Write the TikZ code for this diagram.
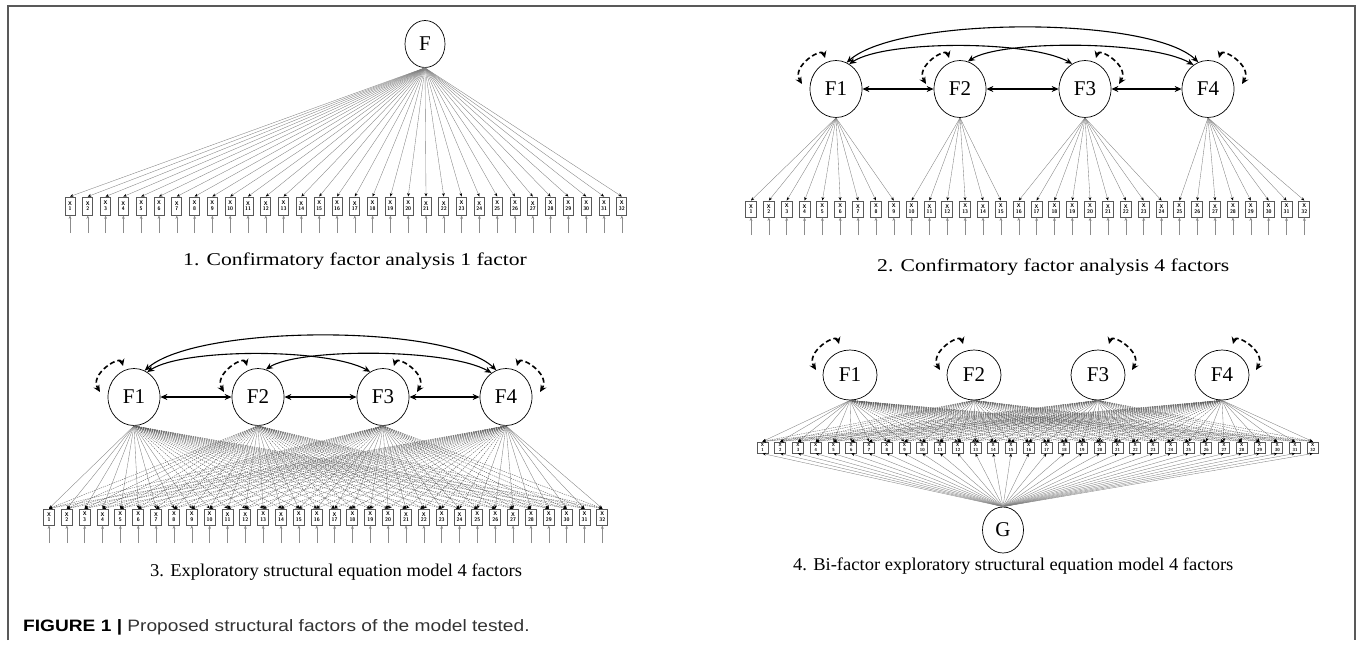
\documentclass[tikz,border=0pt]{standalone}
\usepackage{fontspec}
\usepackage{graphicx}
\setmainfont{Liberation Serif}
\newfontfamily\capsans{Liberation Sans}
\usetikzlibrary{arrows.meta,shapes.geometric}

% factor that item #1 loads on (9, 6, 9 and 8 items)
\newcommand\itemgroup[1]{\ifnum#1<10 1\else\ifnum#1<16 2\else\ifnum#1<25 3\else 4\fi\fi\fi}

\tikzset{
  latent/.style={ellipse, draw=black, line width=0.7pt, inner sep=0pt,
    minimum width=52, minimum height=57, font=\fontsize{21}{22}\selectfont},
  obs/.style={rectangle, draw=black!65, line width=1pt, inner sep=0pt,
    minimum width=11, minimum height=16, align=center, text=black,
    font=\fontsize{5.3}{5.6}\selectfont\bfseries\sffamily},
  loadline/.style={draw=black!50, line width=0.35pt,
    -{Stealth[length=3.4,width=2.8,color=black,fill=black]}},
  xloadline/.style={loadline, draw=black!62, line width=0.4pt, dash pattern=on 1.3pt off 1pt},
  residline/.style={draw=black!45, line width=0.45pt, -{Stealth[length=3.4,width=2.8]}},
  covline/.style={line width=1.1pt, {Stealth[length=7,width=6]}-{Stealth[length=7,width=6]}},
  varline/.style={line width=1.6pt, dash pattern=on 5pt off 3pt,
    {Stealth[length=7,width=6.5]}-{Stealth[length=7,width=6.5]}},
  captext/.style={anchor=base west, inner sep=0pt, font=\fontsize{18}{20}\selectfont},
  frameline/.style={draw=black!65, line width=1.2pt},
}

% variance arcs, opening towards the factor
\newcommand\varleft[1]{\draw[varline] ([xshift=-11pt,yshift=31pt]#1.center)
  .. controls +(-3,-11) and +(-11,-18) .. ([xshift=-34pt,yshift=5pt]#1.center);}
\newcommand\varright[1]{\draw[varline] ([xshift=11pt,yshift=31pt]#1.center)
  .. controls +(3,-11) and +(11,-18) .. ([xshift=34pt,yshift=5pt]#1.center);}

% four correlated factors over 32 items; #1 name prefix, #2 = 1 adds cross-loadings
\newcommand\fourfactor[2]{%
  \foreach \ff/\xx in {1/836,2/960,3/1085,4/1208}
    \node[latent] (#1F\ff) at (\xx,89) {F\ff};
  \foreach \ii in {1,...,32}{
    \node[obs] (#1X\ii) at ({751+(\ii-1)*17.85},209) {X\\\ii};
    \coordinate (#1E\ii) at ({751+(\ii-1)*17.85},235);
    \draw[residline] (#1E\ii) -- (#1X\ii.south);
  }
  \foreach \ii in {1,...,32}{
    \edef\grpno{\itemgroup{\ii}}
    \draw[loadline] (#1F\grpno.south) -- (#1X\ii.north);
  }
  \ifnum#2=1
    \foreach \ff in {1,...,4}{\foreach \ii in {1,...,32}{
      \edef\grpno{\itemgroup{\ii}}
      \ifnum\ff=\grpno\relax\else\draw[xloadline] (#1F\ff.south) -- (#1X\ii.north);\fi
    }}
  \fi
  \draw[covline] (#1F1.68) .. controls (900,16) and (1150,16) .. (#1F4.110);
  \draw[covline] (#1F1.62) .. controls (885,40) and (1030,40) .. (#1F3.117);
  \draw[covline] (#1F2.74) .. controls (1000,40) and (1150,40) .. (#1F4.121);
  \draw[covline] (#1F1.east) -- (#1F2.west);
  \draw[covline] (#1F2.east) -- (#1F3.west);
  \draw[covline] (#1F3.east) -- (#1F4.west);
  \varleft{#1F1}\varleft{#1F2}\varright{#1F3}\varright{#1F4}
}

\begin{document}
\begin{tikzpicture}[x=1pt,y=-1pt]
\useasboundingbox (0,0) rectangle (1357,654);
\fill[white] (0,0) rectangle (1357,654);

% outer frame
\draw[frameline] (8,640) -- (8,6) -- (1355,6) -- (1355,640);

% 1. one-factor model
\node[latent, minimum width=40, minimum height=47] (aF) at (425,44) {F};
\foreach \ii in {1,...,32}{
  \node[obs, minimum width=10, minimum height=18] (aX\ii) at ({70+(\ii-1)*17.8},206) {X\\\ii};
  \coordinate (aE\ii) at ({70+(\ii-1)*17.8},233);
  \draw[residline] (aE\ii) -- (aX\ii.south);
  \draw[loadline] (aF.south) -- (aX\ii.north);
}
\node[captext] (t1) at (183,265) {\scalebox{1.2}[1]{1. Confirmatory factor analysis 1 factor}};

% 2. four correlated factors
\fourfactor{b}{0}
\node[captext] (t2) at (877,271) {\scalebox{1.2}[1]{2. Confirmatory factor analysis 4 factors}};

% 3. ESEM with four factors
\begin{scope}[shift={(-702,308)}]
  \fourfactor{c}{1}
\end{scope}
\node[captext] (t3) at (150,576) {\scalebox{1.03}[1]{3. Exploratory structural equation model 4 factors}};

% 4. bi-factor ESEM
\foreach \ff/\xx in {1/850,2/974,3/1098,4/1222}
  \node[latent, minimum width=54, minimum height=50] (dF\ff) at (\xx,375) {F\ff};
\node[latent, minimum width=41, minimum height=46] (dG) at (1003,530) {G};
\foreach \ii in {1,...,32}
  \node[obs, minimum height=11, font=\fontsize{4.4}{4.6}\selectfont\bfseries\sffamily] (dX\ii) at ({762.5+(\ii-1)*17.75},447.5) {X\\\ii};
\foreach \ff in {1,...,4}{\foreach \ii in {1,...,32}{
  \edef\grpno{\itemgroup{\ii}}
  \ifnum\ff=\grpno\relax\draw[loadline] (dF\ff.south) -- (dX\ii.north);
  \else\draw[xloadline] (dF\ff.south) -- (dX\ii.north);\fi
}}
\foreach \ii in {1,...,32}
  \draw[loadline] (dG.north) -- (dX\ii.south);
\varleft{dF1}\varleft{dF2}\varright{dF3}\varright{dF4}
\node[captext] (t4) at (793,570) {\scalebox{1.03}[1]{4. Bi-factor exploratory structural equation model 4 factors}};

% figure caption
\node[anchor=base west, inner sep=0pt, font=\capsans\fontsize{16.5}{18}\selectfont] (fig) at (23,631)
  {\scalebox{1.16}[1]{\textbf{FIGURE 1 |} \textcolor{black!80}{Proposed structural factors of the model tested.}}};
\end{tikzpicture}
\end{document}
